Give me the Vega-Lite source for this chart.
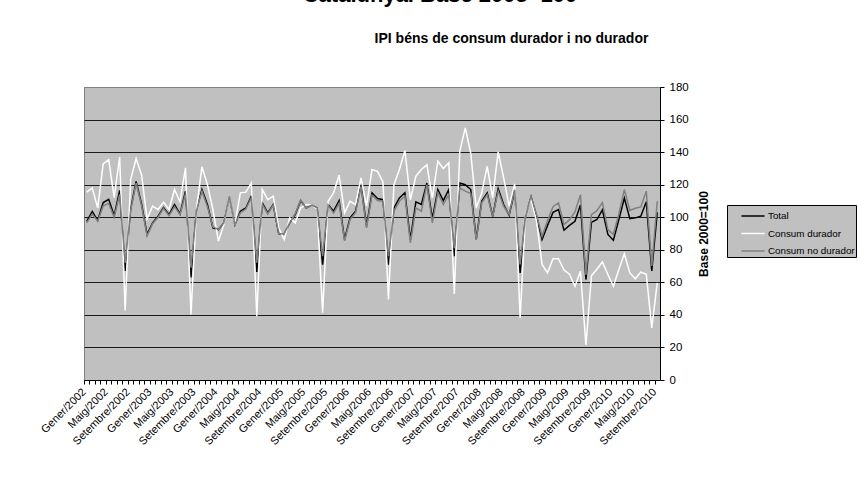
{
  "$schema": "https://vega.github.io/schema/vega-lite/v6.json",
  "width": 576,
  "height": 293,
  "autosize": {"type": "none"},
  "padding": {"left": 84, "top": 87, "right": 198, "bottom": 100},
  "background": "white",
  "title": {
    "text": "Catalunya. Base 2005=100",
    "font": "Liberation Sans",
    "fontSize": 22,
    "fontWeight": "bold",
    "color": "black",
    "anchor": "middle",
    "dx": 68,
    "dy": -24,
    "offset": 0
  },
  "view": {"fill": "#c0c0c0", "stroke": "#808080", "strokeWidth": 1},
  "data": {
    "values": [
      {"date": "2002-01", "Total": 97.5, "Consum durador": 115.4, "Consum no durador": 96.5},
      {"date": "2002-02", "Total": 103.5, "Consum durador": 118, "Consum no durador": 102},
      {"date": "2002-03", "Total": 98, "Consum durador": 105.7, "Consum no durador": 97.5},
      {"date": "2002-04", "Total": 109, "Consum durador": 132.8, "Consum no durador": 107},
      {"date": "2002-05", "Total": 111, "Consum durador": 135.4, "Consum no durador": 108.5},
      {"date": "2002-06", "Total": 101, "Consum durador": 112, "Consum no durador": 100},
      {"date": "2002-07", "Total": 116.4, "Consum durador": 137, "Consum no durador": 114},
      {"date": "2002-08", "Total": 67, "Consum durador": 42.7, "Consum no durador": 72},
      {"date": "2002-09", "Total": 105, "Consum durador": 123, "Consum no durador": 104},
      {"date": "2002-10", "Total": 122, "Consum durador": 136, "Consum no durador": 121},
      {"date": "2002-11", "Total": 108, "Consum durador": 126, "Consum no durador": 107},
      {"date": "2002-12", "Total": 89.5, "Consum durador": 99, "Consum no durador": 88.5},
      {"date": "2003-01", "Total": 96.5, "Consum durador": 106.8, "Consum no durador": 96},
      {"date": "2003-02", "Total": 100.6, "Consum durador": 104.7, "Consum no durador": 100},
      {"date": "2003-03", "Total": 106, "Consum durador": 109.2, "Consum no durador": 105.5},
      {"date": "2003-04", "Total": 101.6, "Consum durador": 104.7, "Consum no durador": 101},
      {"date": "2003-05", "Total": 107.8, "Consum durador": 117, "Consum no durador": 106.5},
      {"date": "2003-06", "Total": 102, "Consum durador": 109.5, "Consum no durador": 101.5},
      {"date": "2003-07", "Total": 116, "Consum durador": 130.3, "Consum no durador": 114.5},
      {"date": "2003-08", "Total": 63, "Consum durador": 40.2, "Consum no durador": 69},
      {"date": "2003-09", "Total": 104.5, "Consum durador": 105, "Consum no durador": 104},
      {"date": "2003-10", "Total": 117, "Consum durador": 131, "Consum no durador": 116},
      {"date": "2003-11", "Total": 107.8, "Consum durador": 120, "Consum no durador": 106.5},
      {"date": "2003-12", "Total": 93.4, "Consum durador": 104.7, "Consum no durador": 94},
      {"date": "2004-01", "Total": 92.4, "Consum durador": 85.3, "Consum no durador": 92.5},
      {"date": "2004-02", "Total": 96.5, "Consum durador": 95.5, "Consum no durador": 96.5},
      {"date": "2004-03", "Total": 112.5, "Consum durador": 113, "Consum no durador": 113},
      {"date": "2004-04", "Total": 95.5, "Consum durador": 95.5, "Consum no durador": 95.5},
      {"date": "2004-05", "Total": 103.7, "Consum durador": 115, "Consum no durador": 102.7},
      {"date": "2004-06", "Total": 105.7, "Consum durador": 115.4, "Consum no durador": 105},
      {"date": "2004-07", "Total": 112.9, "Consum durador": 121, "Consum no durador": 112},
      {"date": "2004-08", "Total": 66.4, "Consum durador": 39.2, "Consum no durador": 72},
      {"date": "2004-09", "Total": 108.8, "Consum durador": 117, "Consum no durador": 108},
      {"date": "2004-10", "Total": 102.7, "Consum durador": 110.8, "Consum no durador": 102},
      {"date": "2004-11", "Total": 107.8, "Consum durador": 112.9, "Consum no durador": 107.5},
      {"date": "2004-12", "Total": 89.8, "Consum durador": 93.4, "Consum no durador": 89.8},
      {"date": "2005-01", "Total": 89.8, "Consum durador": 86.3, "Consum no durador": 90},
      {"date": "2005-02", "Total": 96.5, "Consum durador": 99.6, "Consum no durador": 96.5},
      {"date": "2005-03", "Total": 101.6, "Consum durador": 96.5, "Consum no durador": 102},
      {"date": "2005-04", "Total": 110.2, "Consum durador": 105.7, "Consum no durador": 110.5},
      {"date": "2005-05", "Total": 105.7, "Consum durador": 107.8, "Consum no durador": 105.5},
      {"date": "2005-06", "Total": 107.4, "Consum durador": 107.5, "Consum no durador": 107.4},
      {"date": "2005-07", "Total": 105.7, "Consum durador": 105, "Consum no durador": 105.7},
      {"date": "2005-08", "Total": 70.9, "Consum durador": 41.3, "Consum no durador": 76},
      {"date": "2005-09", "Total": 107.8, "Consum durador": 109.8, "Consum no durador": 107.5},
      {"date": "2005-10", "Total": 103.7, "Consum durador": 115, "Consum no durador": 102.5},
      {"date": "2005-11", "Total": 110.2, "Consum durador": 125.8, "Consum no durador": 108.5},
      {"date": "2005-12", "Total": 86.3, "Consum durador": 102.7, "Consum no durador": 85.5},
      {"date": "2006-01", "Total": 99.6, "Consum durador": 109.8, "Consum no durador": 98.5},
      {"date": "2006-02", "Total": 103.7, "Consum durador": 107.8, "Consum no durador": 103},
      {"date": "2006-03", "Total": 120, "Consum durador": 124.2, "Consum no durador": 119},
      {"date": "2006-04", "Total": 94.5, "Consum durador": 106.8, "Consum no durador": 93.5},
      {"date": "2006-05", "Total": 115, "Consum durador": 129.3, "Consum no durador": 113.5},
      {"date": "2006-06", "Total": 111.5, "Consum durador": 128.2, "Consum no durador": 110.3},
      {"date": "2006-07", "Total": 110.8, "Consum durador": 121.7, "Consum no durador": 109.8},
      {"date": "2006-08", "Total": 70.9, "Consum durador": 49.4, "Consum no durador": 76},
      {"date": "2006-09", "Total": 105.7, "Consum durador": 120, "Consum no durador": 103.7},
      {"date": "2006-10", "Total": 111.9, "Consum durador": 129.3, "Consum no durador": 109.8},
      {"date": "2006-11", "Total": 115, "Consum durador": 140.9, "Consum no durador": 113},
      {"date": "2006-12", "Total": 86.3, "Consum durador": 110.8, "Consum no durador": 84.2},
      {"date": "2007-01", "Total": 109.4, "Consum durador": 125.2, "Consum no durador": 105.7},
      {"date": "2007-02", "Total": 107.8, "Consum durador": 129.3, "Consum no durador": 103.7},
      {"date": "2007-03", "Total": 121, "Consum durador": 132.3, "Consum no durador": 120},
      {"date": "2007-04", "Total": 99.2, "Consum durador": 111.9, "Consum no durador": 96.5},
      {"date": "2007-05", "Total": 117, "Consum durador": 134.4, "Consum no durador": 115},
      {"date": "2007-06", "Total": 110.2, "Consum durador": 129.9, "Consum no durador": 107.8},
      {"date": "2007-07", "Total": 117, "Consum durador": 133.4, "Consum no durador": 114},
      {"date": "2007-08", "Total": 76, "Consum durador": 52.9, "Consum no durador": 81},
      {"date": "2007-09", "Total": 121, "Consum durador": 140.5, "Consum no durador": 118},
      {"date": "2007-10", "Total": 120, "Consum durador": 154.9, "Consum no durador": 116},
      {"date": "2007-11", "Total": 117, "Consum durador": 139.4, "Consum no durador": 114.5},
      {"date": "2007-12", "Total": 86.5, "Consum durador": 105.7, "Consum no durador": 86},
      {"date": "2008-01", "Total": 109.8, "Consum durador": 115, "Consum no durador": 108.8},
      {"date": "2008-02", "Total": 115, "Consum durador": 131.3, "Consum no durador": 113.9},
      {"date": "2008-03", "Total": 100.6, "Consum durador": 111.9, "Consum no durador": 100.6},
      {"date": "2008-04", "Total": 117.6, "Consum durador": 140.1, "Consum no durador": 116},
      {"date": "2008-05", "Total": 107.8, "Consum durador": 124.2, "Consum no durador": 106.8},
      {"date": "2008-06", "Total": 101.2, "Consum durador": 106.8, "Consum no durador": 101.6},
      {"date": "2008-07", "Total": 116, "Consum durador": 120.5, "Consum no durador": 117},
      {"date": "2008-08", "Total": 65.8, "Consum durador": 38.2, "Consum no durador": 71},
      {"date": "2008-09", "Total": 101, "Consum durador": 102.2, "Consum no durador": 101},
      {"date": "2008-10", "Total": 112.5, "Consum durador": 111, "Consum no durador": 112.9},
      {"date": "2008-11", "Total": 100.6, "Consum durador": 97.5, "Consum no durador": 101.6},
      {"date": "2008-12", "Total": 86.3, "Consum durador": 71, "Consum no durador": 88.3},
      {"date": "2009-01", "Total": 95, "Consum durador": 65.8, "Consum no durador": 98},
      {"date": "2009-02", "Total": 103, "Consum durador": 74.5, "Consum no durador": 106.5},
      {"date": "2009-03", "Total": 104.7, "Consum durador": 74.5, "Consum no durador": 108.8},
      {"date": "2009-04", "Total": 92, "Consum durador": 67.5, "Consum no durador": 95.5},
      {"date": "2009-05", "Total": 95, "Consum durador": 65, "Consum no durador": 98.5},
      {"date": "2009-06", "Total": 97.5, "Consum durador": 57.6, "Consum no durador": 103.2},
      {"date": "2009-07", "Total": 107.5, "Consum durador": 66.8, "Consum no durador": 113.8},
      {"date": "2009-08", "Total": 61.7, "Consum durador": 21.5, "Consum no durador": 64.5},
      {"date": "2009-09", "Total": 96.8, "Consum durador": 64, "Consum no durador": 101.6},
      {"date": "2009-10", "Total": 98.6, "Consum durador": 68, "Consum no durador": 104},
      {"date": "2009-11", "Total": 104.5, "Consum durador": 72.5, "Consum no durador": 109},
      {"date": "2009-12", "Total": 89.4, "Consum durador": 64.8, "Consum no durador": 92.4},
      {"date": "2010-01", "Total": 85.8, "Consum durador": 57.6, "Consum no durador": 89.4},
      {"date": "2010-02", "Total": 98.6, "Consum durador": 67.9, "Consum no durador": 102},
      {"date": "2010-03", "Total": 111.7, "Consum durador": 77.6, "Consum no durador": 117},
      {"date": "2010-04", "Total": 99.1, "Consum durador": 65.8, "Consum no durador": 104.2},
      {"date": "2010-05", "Total": 99.6, "Consum durador": 62.2, "Consum no durador": 105.5},
      {"date": "2010-06", "Total": 100.6, "Consum durador": 66.3, "Consum no durador": 106.3},
      {"date": "2010-07", "Total": 109.5, "Consum durador": 65, "Consum no durador": 116},
      {"date": "2010-08", "Total": 67, "Consum durador": 32, "Consum no durador": 70},
      {"date": "2010-09", "Total": 103, "Consum durador": 59.7, "Consum no durador": 109.8}
    ]
  },
  "transform": [
    {"fold": ["Total", "Consum durador", "Consum no durador"], "as": ["serie", "valor"]}
  ],
  "mark": {"type": "line", "strokeWidth": 1.5},
  "encoding": {
    "x": {
      "field": "date",
      "type": "ordinal",
      "scale": {"type": "point", "padding": 0.5},
      "axis": {
        "orient": "bottom",
        "title": "IPI béns de consum durador i no durador",
        "titleFont": "Liberation Sans",
        "titleFontSize": 14,
        "titleFontWeight": "bold",
        "titleColor": "black",
        "titleX": 427,
        "titleY": -338,
        "titleAlign": "center",
        "titleBaseline": "alphabetic",
        "ticks": true,
        "tickOffset": -2.74,
        "tickSize": 4,
        "tickColor": "black",
        "domainColor": "black",
        "grid": false,
        "labelAngle": -45,
        "labelAlign": "right",
        "labelBaseline": "middle",
        "labelPadding": 6,
        "labelOverlap": false,
        "labelFont": "Liberation Sans",
        "labelFontSize": 11,
        "labelColor": "black",
        "labelExpr": "slice(datum.value,5)=='01' ? 'Gener/'+slice(datum.value,0,4) : slice(datum.value,5)=='05' ? 'Maig/'+slice(datum.value,0,4) : slice(datum.value,5)=='09' ? 'Setembre/'+slice(datum.value,0,4) : ''"
      }
    },
    "y": {
      "field": "valor",
      "type": "quantitative",
      "scale": {"domain": [0, 180], "nice": false},
      "axis": {
        "orient": "right",
        "values": [0, 20, 40, 60, 80, 100, 120, 140, 160, 180],
        "title": "Base 2000=100",
        "titleFont": "Liberation Sans",
        "titleFontSize": 12,
        "titleFontWeight": "bold",
        "titleColor": "black",
        "titleAngle": -90,
        "titleX": 43,
        "titleY": 146.5,
        "titleAlign": "center",
        "titleBaseline": "middle",
        "grid": true,
        "gridColor": {"condition": {"test": "datum.value == 180 || datum.value == 0", "value": "#808080"}, "value": "#1a1a1a"},
        "gridWidth": 1,
        "domainColor": "black",
        "tickColor": "black",
        "tickSize": 4,
        "labelFont": "Liberation Sans",
        "labelFontSize": 11.5,
        "labelColor": "black",
        "labelPadding": 5
      }
    },
    "color": {
      "field": "serie",
      "type": "nominal",
      "scale": {
        "domain": ["Total", "Consum durador", "Consum no durador"],
        "range": ["#000000", "#ffffff", "#808080"]
      },
      "legend": {
        "title": null,
        "orient": "none",
        "legendX": 643,
        "legendY": 118,
        "fillColor": "#c0c0c0",
        "strokeColor": "black",
        "padding": 1,
        "symbolType": "M-1.28,0H1.28",
        "symbolSize": 324,
        "symbolStrokeWidth": 1.5,
        "symbolOffset": 15,
        "labelFont": "Liberation Sans",
        "labelFontSize": 9.8,
        "labelColor": "black",
        "labelOffset": 5,
        "rowPadding": 2.5
      }
    }
  }
}
